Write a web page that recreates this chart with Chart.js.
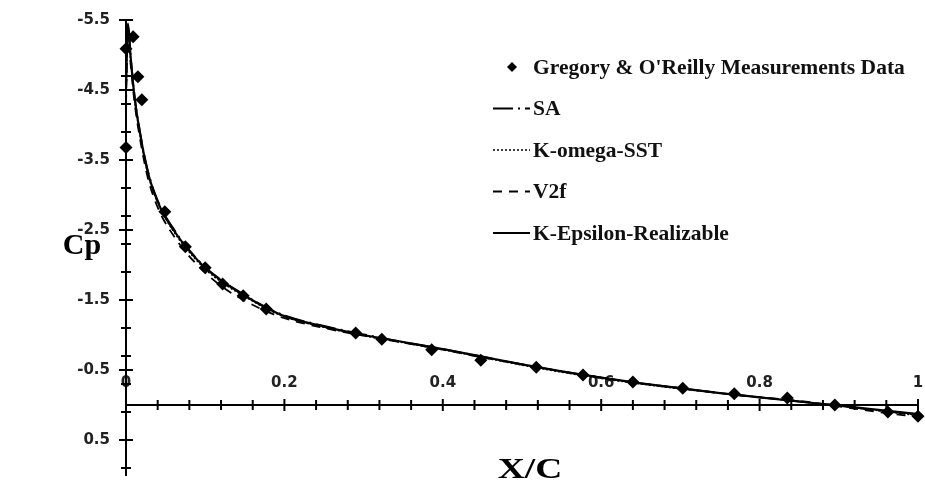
<!DOCTYPE html>
<html>
<head>
<meta charset="utf-8">
<script src="https://cdn.jsdelivr.net/npm/chart.js@4/dist/chart.umd.min.js"></script>
<style>
  html, body { margin: 0; padding: 0; background: #ffffff; }
  canvas { display: block; }
</style>
</head>
<body>
<canvas id="cp" width="925" height="487"></canvas>
<script>
// Measured surface pressure coefficient (Gregory & O'Reilly)
const measX  = [0.0, 0.0, 0.009, 0.015, 0.020, 0.049, 0.075, 0.100, 0.122, 0.148, 0.177,
                0.290, 0.323, 0.386, 0.448, 0.518, 0.577, 0.640, 0.703, 0.768, 0.835, 0.895, 0.962, 1.0];
const measCp = [-3.68, -5.09, -5.26, -4.69, -4.36, -2.76, -2.26, -1.96, -1.73, -1.56, -1.37,
                -1.03, -0.94, -0.79, -0.64, -0.54, -0.43, -0.33, -0.24, -0.16, -0.10, 0.00, 0.10, 0.16];

// Chord stations of the CFD solutions
const cfdX = [0, 0.0025, 0.006, 0.011, 0.019, 0.027, 0.035, 0.045, 0.06, 0.075, 0.1, 0.125, 0.15,
              0.175, 0.2, 0.25, 0.3, 0.35, 0.4, 0.45, 0.5, 0.55, 0.6, 0.65, 0.7, 0.75, 0.8, 0.85,
              0.9, 0.95, 1.0];
const cpSA  = [-4.5, -5.4, -4.97, -4.4, -3.82, -3.38, -3.07, -2.8, -2.52, -2.28, -1.97, -1.75, -1.57,
               -1.41, -1.28, -1.13, -1.01, -0.9, -0.8, -0.69, -0.58, -0.48, -0.39, -0.31, -0.24,
               -0.17, -0.11, -0.05, 0.01, 0.08, 0.14];
const cpSST = [-4.4, -5.35, -4.92, -4.36, -3.78, -3.33, -3.03, -2.77, -2.48, -2.25, -1.94, -1.72, -1.55,
               -1.39, -1.26, -1.11, -0.99, -0.89, -0.79, -0.68, -0.57, -0.47, -0.38, -0.3, -0.23,
               -0.17, -0.11, -0.05, 0.01, 0.08, 0.15];
const cpV2f = [-4.3, -5.3, -4.85, -4.3, -3.72, -3.27, -2.97, -2.7, -2.42, -2.19, -1.89, -1.66, -1.49,
               -1.35, -1.24, -1.1, -0.99, -0.89, -0.79, -0.68, -0.58, -0.48, -0.39, -0.31, -0.24,
               -0.17, -0.11, -0.06, 0.02, 0.1, 0.17];
const cpKER = [-4.6, -5.45, -4.95, -4.38, -3.8, -3.35, -3.05, -2.78, -2.5, -2.27, -1.96, -1.74, -1.56,
               -1.4, -1.27, -1.12, -1.0, -0.9, -0.8, -0.69, -0.58, -0.48, -0.39, -0.31, -0.24,
               -0.17, -0.11, -0.05, 0.01, 0.07, 0.13];

// Axis ticks: labelled (major) and unlabelled (minor) marks
const xMajorTicks = [0, 0.2, 0.4, 0.6, 0.8, 1];
const xMinorTicks = [0.04, 0.08, 0.12, 0.16, 0.24, 0.28, 0.32, 0.36, 0.44, 0.48, 0.52, 0.56,
                     0.64, 0.68, 0.72, 0.76, 0.84, 0.88, 0.92, 0.96];
const yMajorTicks = [-5.5, -4.5, -3.5, -2.5, -1.5, -0.5, 0.5];
const yMinorTicks = [-5.1, -4.7, -4.3, -3.9, -3.1, -2.7, -2.3, -1.9, -1.1, -0.7, -0.3, 0.1, 0.9];

const pairs = (xs, ys) => xs.map((x, i) => ({ x: x, y: ys[i] }));

const TICK_FONT = { family: 'DejaVu Sans', size: 15, weight: 'bold' };
const SERIF = '"Liberation Serif", "Times New Roman", serif';

// Axis boxes take no room of their own; the layout padding sets the plot area
function noBoxPadding(scale) {
  scale.paddingTop = 0;
  scale.paddingBottom = 0;
  scale.paddingLeft = 0;
  scale.paddingRight = 0;
}

// Tick marks crossing both axes
const crossTicks = {
  id: 'crossTicks',
  beforeDatasetsDraw(chart) {
    const { ctx, scales: { x, y } } = chart;
    const y0 = y.getPixelForValue(0);
    const x0 = x.getPixelForValue(0);
    ctx.save();
    ctx.strokeStyle = '#000';
    ctx.lineWidth = 2;
    ctx.beginPath();
    x.ticks.forEach(t => {
      const px = x.getPixelForValue(t.value);
      const h = xMajorTicks.includes(t.value) ? 6 : 5;
      ctx.moveTo(px, y0 - h);
      ctx.lineTo(px, y0 + h);
    });
    y.ticks.forEach(t => {
      const py = y.getPixelForValue(t.value);
      const w = yMajorTicks.includes(t.value) ? 7 : 5;
      ctx.moveTo(x0 - w, py);
      ctx.lineTo(x0 + w, py);
    });
    ctx.stroke();
    ctx.restore();
  }
};

// Axis titles
const axisTitles = {
  id: 'axisTitles',
  afterDraw(chart) {
    const { ctx, chartArea } = chart;
    ctx.save();
    ctx.fillStyle = '#000';
    ctx.font = 'bold 30px ' + SERIF;
    ctx.textAlign = 'center';
    ctx.textBaseline = 'alphabetic';
    ctx.fillText('Cp', 82, 254);
    ctx.translate((chartArea.left + chartArea.right) / 2 + 8, 478);
    ctx.scale(1.25, 1);
    ctx.fillText('X/C', 0, 0);
    ctx.restore();
  }
};

// Vertical legend inside the plot
const sideLegend = {
  id: 'sideLegend',
  afterDraw(chart) {
    const { ctx } = chart;
    const left = 493, right = 530, textX = 533, top = 67, step = 41.5;
    ctx.save();
    ctx.font = 'bold 21.5px ' + SERIF;
    ctx.textBaseline = 'middle';
    ctx.textAlign = 'left';
    chart.data.datasets.forEach((ds, i) => {
      const cy = top + i * step;
      ctx.strokeStyle = '#000';
      ctx.fillStyle = '#000';
      if (ds.showLine === false) {
        const r = 5;
        const cx = 512;
        ctx.beginPath();
        ctx.moveTo(cx, cy - r);
        ctx.lineTo(cx + r, cy);
        ctx.lineTo(cx, cy + r);
        ctx.lineTo(cx - r, cy);
        ctx.closePath();
        ctx.fill();
      } else {
        ctx.lineWidth = ds.borderWidth;
        ctx.setLineDash(ds.borderDash || []);
        ctx.beginPath();
        ctx.moveTo(left, cy);
        ctx.lineTo(right, cy);
        ctx.stroke();
        ctx.setLineDash([]);
      }
      ctx.fillStyle = '#111';
      ctx.fillText(ds.label, textX, cy + 1);
    });
    ctx.restore();
  }
};

const lineSet = (label, ys, dash, width) => ({
  label: label,
  data: pairs(cfdX, ys),
  showLine: true,
  borderColor: '#000',
  backgroundColor: '#000',
  borderWidth: width,
  borderDash: dash,
  pointRadius: 0,
  pointHoverRadius: 0,
  tension: 0.3,
  cubicInterpolationMode: 'monotone',
  clip: false
});

new Chart(document.getElementById('cp'), {
  type: 'scatter',
  data: {
    datasets: [
      {
        label: "Gregory & O'Reilly Measurements Data",
        data: pairs(measX, measCp),
        showLine: false,
        pointStyle: 'rectRot',
        pointRadius: 6.5,
        pointHoverRadius: 6.5,
        backgroundColor: '#000',
        borderColor: '#000',
        borderWidth: 0,
        clip: false
      },
      lineSet('SA', cpSA, [20, 5, 2, 5], 1.8),
      lineSet('K-omega-SST', cpSST, [2, 2], 1.5),
      lineSet('V2f', cpV2f, [9, 7], 1.8),
      lineSet('K-Epsilon-Realizable', cpKER, [], 2.2)
    ]
  },
  options: {
    responsive: false,
    devicePixelRatio: 1,
    animation: false,
    layout: { padding: { left: 0, top: 20, right: 7, bottom: 12 } },
    plugins: {
      legend: { display: false },
      tooltip: { enabled: false }
    },
    scales: {
      x: {
        type: 'linear',
        min: 0,
        max: 1,
        position: { y: 0 },
        afterFit(scale) { scale.height = 0; noBoxPadding(scale); },
        afterBuildTicks(scale) {
          scale.ticks = xMajorTicks.concat(xMinorTicks).sort((a, b) => a - b).map(v => ({ value: v }));
        },
        grid: { display: false },
        border: { display: true, color: '#000', width: 2 },
        ticks: {
          autoSkip: false,
          maxRotation: 0,
          padding: -39,
          color: '#222',
          font: TICK_FONT,
          callback: v => (xMajorTicks.includes(v) ? String(v) : '')
        }
      },
      y: {
        type: 'linear',
        min: -5.5,
        max: 1.0,
        reverse: true,
        position: 'left',
        afterFit(scale) { scale.width = 126; noBoxPadding(scale); },
        afterBuildTicks(scale) {
          scale.ticks = yMajorTicks.concat(yMinorTicks.filter(v => !yMajorTicks.includes(v)))
            .sort((a, b) => a - b).map(v => ({ value: v }));
        },
        grid: { display: false },
        border: { display: true, color: '#000', width: 2 },
        ticks: {
          autoSkip: false,
          padding: 8,
          color: '#222',
          font: TICK_FONT,
          callback: v => (yMajorTicks.includes(v) ? String(v) : '')
        }
      }
    }
  },
  plugins: [crossTicks, axisTitles, sideLegend]
});
</script>
</body>
</html>
